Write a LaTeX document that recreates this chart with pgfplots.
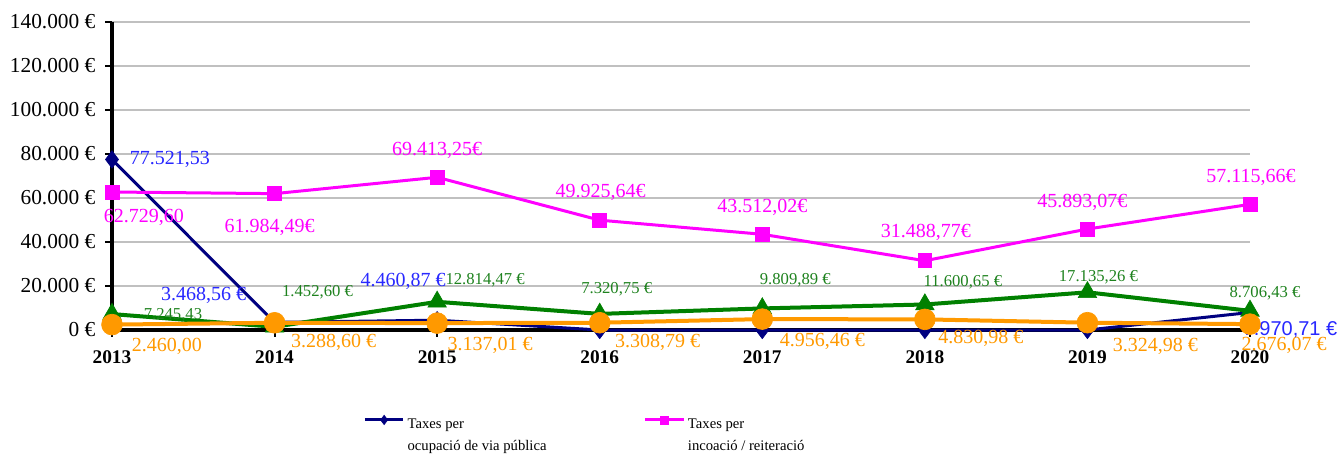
\documentclass[border=0pt]{standalone}
\usepackage{fontspec}
\setmainfont{Liberation Serif}
\setsansfont{Liberation Sans}
\usepackage{pgfplots}
\usepackage{pgfplotstable}
\pgfplotsset{compat=1.18}

\definecolor{navyline}{RGB}{0,0,128}
\definecolor{navylab}{RGB}{40,40,255}
\definecolor{magline}{RGB}{255,0,255}
\definecolor{grnline}{RGB}{0,128,0}
\definecolor{grnlab}{RGB}{30,130,30}
\definecolor{orgline}{RGB}{255,153,0}
\definecolor{gridgray}{RGB}{192,192,192}

% x;y;label offset in px (dx,dy);label
\pgfplotstableread[col sep=semicolon]{
x;y;dx;dy;lab
2013;77521.53;58;0;77.521,53
2014;3468.56;-71;27;3.468,56 €
2015;4460.87;-34;39;4.460,87 €
2016;0;0;0;\relax
2017;0;0;0;\relax
2018;0;0;0;\relax
2019;0;0;0;\relax
2020;7970.71;40;-17;\sffamily 7.970,71 €
}\navy

\pgfplotstableread[col sep=semicolon]{
x;y;dx;dy;lab
2013;62729.60;32;-25;62.729,60
2014;61984.49;-5;-34;61.984,49€
2015;69413.25;0;27;69.413,25€
2016;49925.64;1;28;49.925,64€
2017;43512.02;0;27;43.512,02€
2018;31488.77;1;28;31.488,77€
2019;45893.07;-5;27;45.893,07€
2020;57115.66;1;27;57.115,66€
}\magenta

\pgfplotstableread[col sep=semicolon]{
x;y;dx;dy;lab
2013;7245.43;61;-1;7.245,43
2014;1452.60;43;35;1.452,60 €
2015;12814.47;48;22;12.814,47 €
2016;7320.75;17;25;7.320,75 €
2017;9809.89;33;28;9.809,89 €
2018;11600.65;38;22;11.600,65 €
2019;17135.26;11;15;17.135,26 €
2020;8706.43;15;18;8.706,43 €
}\green

\pgfplotstableread[col sep=semicolon]{
x;y;dx;dy;lab
2013;2460.00;55;-22;2.460,00
2014;3288.60;59;-20;3.288,60 €
2015;3137.01;53;-22;3.137,01 €
2016;3308.79;58;-20;3.308,79 €
2017;4956.46;60;-22;4.956,46 €
2018;4830.98;56;-19;4.830,98 €
2019;3324.98;68;-24;3.324,98 €
2020;2676.07;34;-21;2.676,07 €
}\orange

\pgfplotsset{
  lbl/.style={
    nodes near coords,
    point meta=explicit symbolic,
    visualization depends on={\thisrow{dx}\as\dx},
    visualization depends on={\thisrow{dy}\as\dy},
    every node near coord/.append style={anchor=center, inner sep=0pt,
      xshift={0.75pt*\dx}, yshift={0.75pt*\dy}, #1},
  },
}

\begin{document}
\begin{tikzpicture}
\path[use as bounding box] (-84pt,-93.75pt) rectangle (918.75pt,247.5pt);
\begin{axis}[
  at={(0,0)}, anchor=south west,
  scale only axis, width=853.5pt, height=231pt,
  xmin=2013, xmax=2020, ymin=0, ymax=140000,
  clip=false,
  scaled y ticks=false,
  axis lines*=left,
  axis line style={line width=3pt, black},
  xtick={2013,2014,2015,2016,2017,2018,2019,2020},
  xticklabels={2013,2014,2015,2016,2017,2018,2019,2020},
  ytick={0,20000,40000,60000,80000,100000,120000,140000},
  yticklabels={0 €,20.000 €,40.000 €,60.000 €,80.000 €,100.000 €,120.000 €,140.000 €},
  tick align=outside, major tick length=5pt,
  tick style={black, line width=1.5pt},
  ymajorgrids, grid style={gridgray, line width=1.5pt},
  yticklabel style={font=\fontsize{16}{18}\selectfont, xshift=-4pt},
  xticklabel style={font=\bfseries\fontsize{14.5}{16}\selectfont, yshift=-7pt},
  legend style={at={(0.2206,-0.276)}, anchor=north west, draw=none, fill=none,
    font=\fontsize{11}{16.5}\selectfont, inner sep=0pt},
  legend columns=2,
  legend cell align=left,
  legend image code/.code={\draw[#1, mark repeat=2, mark phase=2, yshift=3.5pt]
    plot coordinates {(0pt,0pt) (14.5pt,0pt) (29pt,0pt)};},
]
\addplot[navyline, line width=2.25pt, mark=diamond*, mark size=6.5pt,
  mark options={line width=0.5pt},
  legend image post style={mark size=3.5pt},
  lbl={text=navylab, font=\fontsize{15}{17}\selectfont}]
  table[x=x, y=y, meta=lab] {\navy};
\addlegendentry{\parbox[t]{175pt}{Taxes per\\ocupació de via pública}}
\addplot[magline, line width=2.25pt, mark=square*, mark size=5.2pt,
  mark options={line width=0.5pt},
  legend image post style={mark size=3pt},
  lbl={text=magline, font=\fontsize{15}{17}\selectfont}]
  table[x=x, y=y, meta=lab] {\magenta};
\addlegendentry{\parbox[t]{175pt}{Taxes per\\incoació / reiteració}}
\addplot[grnline, line width=3pt, mark=triangle*, mark size=8pt,
  mark options={line width=0.5pt},
  lbl={text=grnlab, font=\fontsize{12.5}{14}\selectfont}]
  table[x=x, y=y, meta=lab] {\green};
\addplot[orgline, line width=3pt, mark=*, mark size=7.8pt,
  mark options={line width=0.5pt},
  lbl={text=orgline, font=\fontsize{15}{17}\selectfont}]
  table[x=x, y=y, meta=lab] {\orange};
\end{axis}
\end{tikzpicture}
\end{document}
